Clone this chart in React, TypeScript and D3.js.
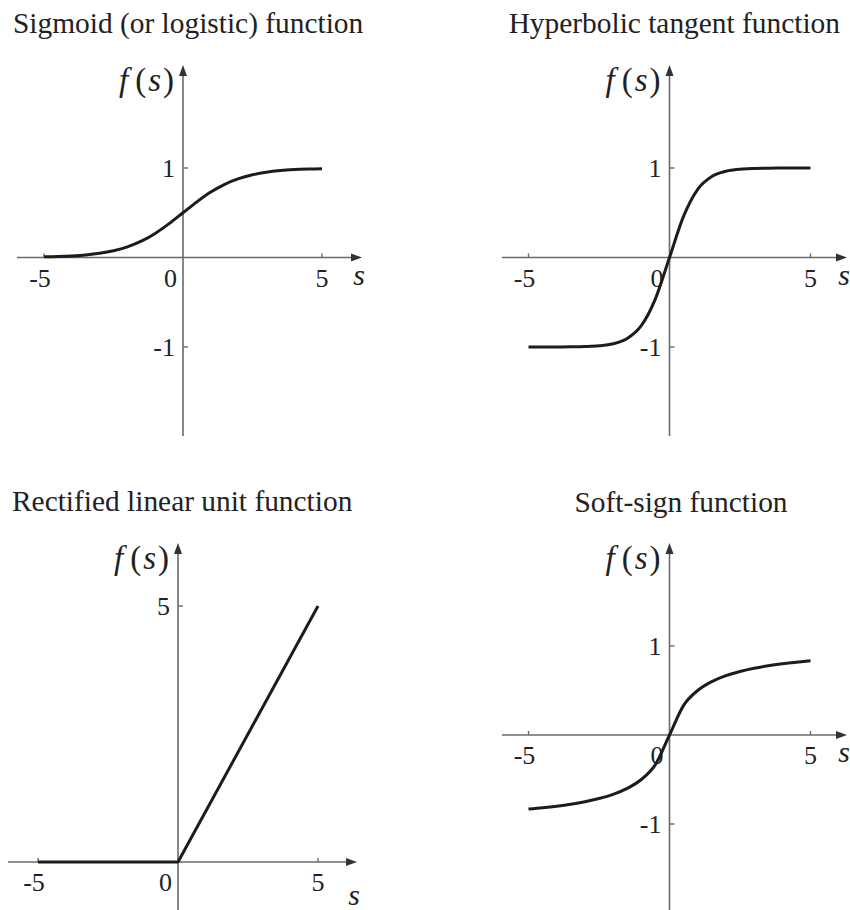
import React from "react";
import * as d3 from "d3";

// ---- data ----
const S_VALUES = [-5, -4.5, -4, -3.5, -3, -2.5, -2, -1.5, -1, -0.5, 0, 0.5, 1, 1.5, 2, 2.5, 3, 3.5, 4, 4.5, 5];
const SIGMOID = [0.007, 0.011, 0.018, 0.029, 0.047, 0.076, 0.119, 0.182, 0.269, 0.378, 0.5, 0.622, 0.731, 0.818, 0.881, 0.924, 0.953, 0.971, 0.982, 0.989, 0.993];
const TANH = [-1.0, -1.0, -0.999, -0.998, -0.995, -0.987, -0.964, -0.905, -0.762, -0.462, 0, 0.462, 0.762, 0.905, 0.964, 0.987, 0.995, 0.998, 0.999, 1.0, 1.0];
const SOFTSIGN = [-0.833, -0.818, -0.8, -0.778, -0.75, -0.714, -0.667, -0.6, -0.5, -0.333, 0, 0.333, 0.5, 0.6, 0.667, 0.714, 0.75, 0.778, 0.8, 0.818, 0.833];
const RELU_S = [-5, 0, 5];
const RELU = [0, 0, 5];

const X_TICKS = [-5, 5];
const Y_TICKS_UNIT = [1, -1];
const Y_TICKS_RELU = [5];
const TITLES = [
  "Sigmoid (or logistic) function",
  "Hyperbolic tangent function",
  "Rectified linear unit function",
  "Soft-sign function",
];

type Panel = {
  title: string;
  titleX: number;
  titleY: number;
  titleAnchor: "start" | "middle" | "end";
  xs: number[];
  ys: number[];
  xRange: [number, number];
  yDomain: [number, number];
  yRange: [number, number];
  axisLeft: number;
  axisRight: number;
  axisTop: number;
  axisBottom: number;
  yTicks: number[];
  sLabelDy: number;
  linear?: boolean;
};

const PANELS: Panel[] = [
  {
    title: TITLES[0], titleX: 13, titleY: 33, titleAnchor: "start",
    xs: S_VALUES, ys: SIGMOID,
    xRange: [44, 322], yDomain: [-1, 1], yRange: [347, 168],
    axisLeft: 17, axisRight: 362, axisTop: 65, axisBottom: 436,
    yTicks: Y_TICKS_UNIT, sLabelDy: 27,
  },
  {
    title: TITLES[1], titleX: 840, titleY: 33, titleAnchor: "end",
    xs: S_VALUES, ys: TANH,
    xRange: [528.5, 810.5], yDomain: [-1, 1], yRange: [347, 168],
    axisLeft: 502, axisRight: 847, axisTop: 65, axisBottom: 436,
    yTicks: Y_TICKS_UNIT, sLabelDy: 27,
  },
  {
    title: TITLES[2], titleX: 12, titleY: 511, titleAnchor: "start",
    xs: RELU_S, ys: RELU,
    xRange: [38, 318], yDomain: [0, 5], yRange: [862, 606],
    axisLeft: 8, axisRight: 357, axisTop: 543, axisBottom: 910,
    yTicks: Y_TICKS_RELU, sLabelDy: 43, linear: true,
  },
  {
    title: TITLES[3], titleX: 681, titleY: 512, titleAnchor: "middle",
    xs: S_VALUES, ys: SOFTSIGN,
    xRange: [528.5, 810.5], yDomain: [-1, 1], yRange: [824, 646],
    axisLeft: 502, axisRight: 847, axisTop: 543, axisBottom: 910,
    yTicks: Y_TICKS_UNIT, sLabelDy: 27,
  },
];

const FONT = '"Liberation Serif"';
const AXIS_COLOR = "#6a6a6a";
const ARROW_COLOR = "#333";
const TEXT_COLOR = "#222";
const CURVE_COLOR = "#1c1c1c";

function PanelView({ p }: { p: Panel }) {
  const x = d3.scaleLinear().domain([-5, 5]).range(p.xRange);
  const y = d3.scaleLinear().domain(p.yDomain).range(p.yRange);
  const ox = x(0);
  const oy = y(0);
  const pts = p.xs.map((s, i) => [s, p.ys[i]] as [number, number]);
  const line = d3
    .line<[number, number]>()
    .x((d) => x(d[0]))
    .y((d) => y(d[1]))
    .curve(p.linear ? d3.curveLinear : d3.curveMonotoneX);

  const ah = 11;
  const aw = 4;
  const lab = { fontFamily: FONT, fontSize: "26px" };
  return (
    <g>
      <text x={p.titleX} y={p.titleY} fill={TEXT_COLOR} style={{ fontFamily: FONT, fontSize: "29.4px" }} textAnchor={p.titleAnchor}>
        {p.title}
      </text>
      <line x1={p.axisLeft} x2={p.axisRight - ah + 1} y1={oy} y2={oy} stroke={AXIS_COLOR} strokeWidth={1.6} />
      <path d={`M${p.axisRight},${oy} L${p.axisRight - ah},${oy - aw} L${p.axisRight - ah},${oy + aw} Z`} fill={ARROW_COLOR} />
      <line x1={ox} x2={ox} y1={p.axisBottom} y2={p.axisTop + ah - 1} stroke={AXIS_COLOR} strokeWidth={1.6} />
      <path d={`M${ox},${p.axisTop} L${ox - aw},${p.axisTop + ah} L${ox + aw},${p.axisTop + ah} Z`} fill={ARROW_COLOR} />
      {X_TICKS.map((t) => (
        <g key={"xt" + t}>
          <line x1={x(t)} x2={x(t)} y1={oy} y2={oy - 4} stroke={AXIS_COLOR} strokeWidth={1.4} />
          <text x={x(t) - (t < 0 ? 4 : 0)} y={oy + 29} fill={TEXT_COLOR} style={lab} textAnchor="middle">
            {t < 0 ? "-" + Math.abs(t) : String(t)}
          </text>
        </g>
      ))}
      <text x={ox - 6} y={oy + 29} fill={TEXT_COLOR} style={lab} textAnchor="end">0</text>
      {p.yTicks.map((t) => (
        <g key={"yt" + t}>
          <line x1={ox} x2={ox + 5} y1={y(t)} y2={y(t)} stroke={AXIS_COLOR} strokeWidth={1.4} />
          <text x={ox - 8} y={y(t) + 8.5} fill={TEXT_COLOR} style={lab} textAnchor="end">
            {t < 0 ? "-" + Math.abs(t) : String(t)}
          </text>
        </g>
      ))}
      <text x={ox - 9} y={p.axisTop + 26} fill={TEXT_COLOR} style={{ fontFamily: FONT, fontSize: "33px" }} textAnchor="end">
        <tspan style={{ fontStyle: "italic" }}>f</tspan>
        <tspan dx={7}>(</tspan>
        <tspan dx={2} style={{ fontStyle: "italic" }}>s</tspan>
        <tspan dx={2}>)</tspan>
      </text>
      <text x={p.axisRight - 3} y={oy + p.sLabelDy} fill={TEXT_COLOR} style={{ fontFamily: FONT, fontSize: "30px", fontStyle: "italic" }} textAnchor="middle">
        s
      </text>
      <path d={line(pts) || ""} fill="none" stroke={CURVE_COLOR} strokeWidth={3} strokeLinejoin="round" />
    </g>
  );
}

export default function App() {
  return (
    <svg width={850} height={910} style={{ position: "absolute", left: 0, top: 0, background: "#fff" }}>
      {PANELS.map((p, i) => (
        <PanelView key={i} p={p} />
      ))}
    </svg>
  );
}
